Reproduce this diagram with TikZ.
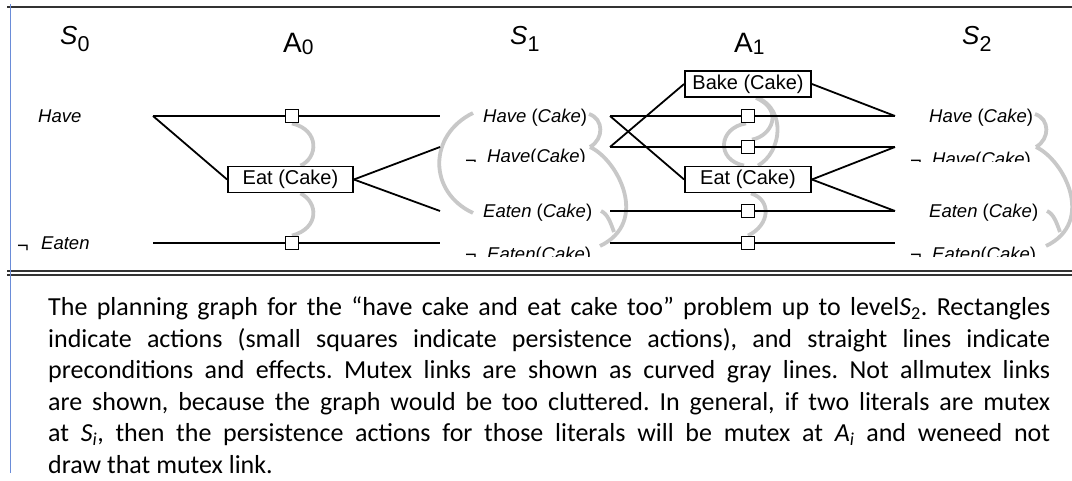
\documentclass[tikz,border=0pt]{standalone}
\usepackage{fontspec}
\newfontfamily\dsans{Liberation Sans}
\newfontfamily\capfont{Carlito}
\definecolor{mutexgray}{RGB}{200,200,200}
\definecolor{ruleblue}{RGB}{106,140,216}
\newcommand{\lvlS}[1]{{\fontsize{26}{26}\selectfont\itshape S}\raisebox{-7pt}{\fontsize{21.5}{21.5}\selectfont #1}}
\newcommand{\lvlA}[1]{{\fontsize{28}{28}\selectfont A}\raisebox{-2pt}{\fontsize{21}{21}\selectfont #1}}
\begin{document}
\begin{tikzpicture}[x=1pt,y=-1pt,
  lit/.style={anchor=base west, inner sep=0, font=\dsans\fontsize{18.5}{18.5}\selectfont},
  notsign/.style={anchor=north west, inner sep=0, font=\dsans\fontsize{20}{20}\selectfont},
  hdr/.style={anchor=base west, inner sep=0, font=\dsans},
  actbox/.style={draw, line width=1.8pt, inner sep=0, minimum width=126pt, minimum height=26pt,
                 font=\dsans\fontsize{20}{20}\selectfont},
  pers/.style={draw, fill=white, line width=1.8pt, inner sep=0, minimum size=13pt},
  link/.style={line width=1.8pt, black},
  mutex/.style={line width=3.8pt, mutexgray},
  frame/.style={line width=1.2pt, black!80}]
\useasboundingbox (0,0) rectangle (1072,481);

% ---- frame ----
\draw[frame] (7,7) -- (1072,7);
\draw[frame] (7,271) -- (1072,271);
\draw[frame] (7,275) -- (1072,275);
\draw[line width=1.5pt, ruleblue] (10.5,4) -- (10.5,473);

% ---- level headings ----
\node[hdr] (hS0) at (60,45) {\lvlS{0}};
\node[hdr] (hA0) at (283,53) {\lvlA{0}};
\node[hdr] (hS1) at (510,45) {\lvlS{1}};
\node[hdr] (hA1) at (734,53) {\lvlA{1}};
\node[hdr] (hS2) at (962,45) {\lvlS{2}};

% ---- attach points of the literals ----
\coordinate (s0h)  at (153,116);
\coordinate (s0ne) at (153,243);
\coordinate (s1hL)  at (440,116);
\coordinate (s1nhL) at (440,147);
\coordinate (s1eL)  at (440,211);
\coordinate (s1neL) at (440,243);
\coordinate (s1hR)  at (610,116);
\coordinate (s1nhR) at (610,147);
\coordinate (s1eR)  at (610,211);
\coordinate (s1neR) at (610,243);
\coordinate (s2h)  at (895,116);
\coordinate (s2nh) at (895,147);
\coordinate (s2e)  at (895,211);
\coordinate (s2ne) at (895,243);

% ---- actions and persistence actions ----
\node[actbox, minimum width=125pt] (eat0) at (290.5,179.5) {Eat (Cake)};
\node[pers] (p0h)  at (292,116) {};
\node[pers] (p0ne) at (292,243) {};
\node[actbox] (bake1) at (748,84) {Bake (Cake)};
\node[actbox] (eat1)  at (748,179.5) {Eat (Cake)};
\node[pers] (p1h)  at (748,116) {};
\node[pers] (p1nh) at (748,147) {};
\node[pers] (p1e)  at (748,211) {};
\node[pers] (p1ne) at (748,243) {};

% ---- mutex links ----
\coordinate (m1a) at (473,113);
\coordinate (m1b) at (473,213);
\draw[mutex] (m1a) .. controls (428,135) and (428,192) .. (m1b);
\foreach \dx/\nm in {0/one,446/two}{
  \begin{scope}[xshift=\dx pt]
    \coordinate (hk\nm a) at (589,114);
    \coordinate (hk\nm b) at (590,147);
    \coordinate (hk\nm c) at (600,246);
    \coordinate (hk\nm d) at (601,211);
    \coordinate (hk\nm e) at (614,232);
    \draw[mutex] (hk\nm a) .. controls (604,119) and (604,139) .. (hk\nm b);
    \draw[mutex] (hk\nm b) .. controls (618,160) and (650,222) .. (hk\nm c);
    \draw[mutex] (hk\nm d) .. controls (608,214) and (611,224) .. (hk\nm e);
  \end{scope}
}
\draw[mutex] (p0h.south) .. controls (320,130) and (318,158) .. ([xshift=10pt]eat0.north);
\draw[mutex] ([xshift=10pt]eat0.south) .. controls (318,202) and (320,228) .. (p0ne.north);
% Bake / Eat, Bake / persist not-Have, persist Have / Eat
\draw[mutex] ([xshift=10pt]bake1.south) .. controls (786,110) and (782,152) .. ([xshift=10pt]eat1.north);
\draw[mutex] ([xshift=8pt]bake1.south) .. controls (784,110) and (772,136) .. ([xshift=4pt]p1nh.north);
\draw[mutex] ([xshift=-2pt]p1h.south) .. controls (718,128) and (716,160) .. ([xshift=-4pt]eat1.north);
\draw[mutex] ([xshift=3pt]eat1.south) .. controls (772,200) and (770,225) .. (p1ne.north);

% ---- preconditions and effects ----
\draw[link] (s0h) -- (p0h) -- (s1hL);
\draw[link] (s0h) -- (eat0.west);
\draw[link] (eat0.east) -- (s1nhL);
\draw[link] (eat0.east) -- (s1eL);
\draw[link] (s0ne) -- (p0ne) -- (s1neL);
\draw[link] (s1hR) -- (p1h) -- (s2h);
\draw[link] (s1nhR) -- (p1nh) -- (s2nh);
\draw[link] (s1nhR) -- (bake1.west);
\draw[link] (s1hR) -- (eat1.west);
\draw[link] (bake1.east) -- (s2h);
\draw[link] (eat1.east) -- (s2nh);
\draw[link] (eat1.east) -- (s2e);
\draw[link] (s1eR) -- (p1e) -- (s2e);
\draw[link] (s1neR) -- (p1ne) -- (s2ne);
% boxes and squares sit on top of the lines
\node[actbox, minimum width=125pt, fill=white] at (eat0) {Eat (Cake)};
\node[actbox, fill=white] at (bake1) {Bake (Cake)};
\node[actbox, fill=white] at (eat1) {Eat (Cake)};
\foreach \p in {p0h,p0ne,p1h,p1nh,p1e,p1ne} \node[pers] at (\p) {};

% ---- literal labels ----
\node[lit] (l0h) at (38,123) {\itshape Have};
\node[notsign] (l0nx) at (17,244.5) {¬};
\node[lit] (l0ne) at (41,250) {\itshape Eaten};

\node[lit] (l1h) at (483,123) {{\itshape Have} ({\itshape Cake})};
\node[lit] (l1e) at (483,218) {{\itshape Eaten} ({\itshape Cake})};
\node[lit] (l2h) at (929,123) {{\itshape Have} ({\itshape Cake})};
\node[lit] (l2e) at (929,218) {{\itshape Eaten} ({\itshape Cake})};

\begin{scope}
  \clip (455,140) rectangle (610,161.5);
  \node[notsign] (l1nx) at (465,159.6) {¬};
  \node[lit] (l1nh) at (487,163) {{\itshape Have}({\itshape Cake})};
\end{scope}
\begin{scope}
  \clip (455,235) rectangle (610,256.5);
  \node[notsign] (l1ny) at (465,254.2) {¬};
  \node[lit] (l1ne) at (487,260.5) {{\itshape Eaten}({\itshape Cake})};
\end{scope}
\begin{scope}
  \clip (900,140) rectangle (1060,161.5);
  \node[notsign] (l2nx) at (910,159.6) {¬};
  \node[lit] (l2nh) at (932,166) {{\itshape Have}({\itshape Cake})};
\end{scope}
\begin{scope}
  \clip (900,235) rectangle (1060,256.5);
  \node[notsign] (l2ny) at (910,254.2) {¬};
  \node[lit] (l2ne) at (932,260.5) {{\itshape Eaten}({\itshape Cake})};
\end{scope}

% ---- caption ----
\node[anchor=north west, inner sep=0, text width=1002pt, align=justify,
      font=\capfont\fontsize{26}{31.5}\selectfont] (cap) at (48,297) {%
\frenchspacing\hyphenpenalty=10000
The planning graph for the “have cake and eat cake too” problem up to level\textit{S}\textsubscript{2}. Rectangles\linebreak
indicate actions (small squares indicate persistence actions), and straight lines indicate\linebreak
preconditions and effects. Mutex links are shown as curved gray lines. Not allmutex links\linebreak
are shown, because the graph would be too cluttered. In general, if two literals are mutex\linebreak
at \textit{S\textsubscript{i}}, then the persistence actions for those literals will be mutex at \textit{A\textsubscript{i}} and weneed not\linebreak
draw that mutex link.};
\end{tikzpicture}
\end{document}
